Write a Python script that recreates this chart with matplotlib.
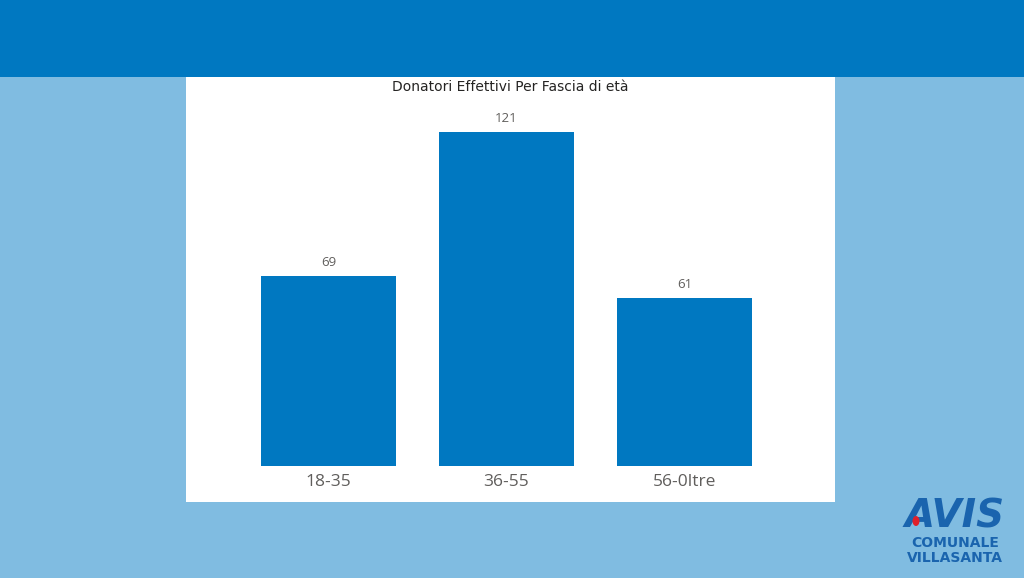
import matplotlib.pyplot as plt
from matplotlib.patches import Rectangle, Ellipse

categories = ["18-35", "36-55", "56-0ltre"]
donatori = [69, 121, 61]
title = "Donatori Effettivi Per Fascia di età"

W, H = 1024, 578
fig = plt.figure(figsize=(W / 100, H / 100), dpi=100)
fig.patch.set_facecolor("#80bce1")

# pixel box (from top-left) -> figure fraction rect
def px(x0, y0, x1, y1):
    return (x0 / W, 1 - y1 / H, (x1 - x0) / W, (y1 - y0) / H)

b = px(0, 0, W, 77)
fig.patches.append(Rectangle((b[0], b[1]), b[2], b[3], transform=fig.transFigure,
                             facecolor="#0078c1", edgecolor="none", zorder=-2))
p = px(186, 77, 835, 502)
fig.patches.append(Rectangle((p[0], p[1]), p[2], p[3], transform=fig.transFigure,
                             facecolor="white", edgecolor="none", zorder=-2))

ax = fig.add_axes(px(186, 100, 835, 466))
ax.set_facecolor("none")
ax.set_zorder(1)
x = list(range(len(categories)))
ax.bar(x, donatori, width=0.758, color="#0078c1")
ax.set_xlim((186 - 328.5) / 178, (835 - 328.5) / 178)
ax.set_ylim(0, (466 - 100) / 2.76)
for s in ax.spines.values():
    s.set_visible(False)
ax.set_yticks([])
ax.set_xticks(x)
ax.set_xticklabels(categories, fontsize=12.5, color="#605e5c", family="Open Sans")
ax.tick_params(axis="x", length=0, pad=6)
for xi, v in zip(x, donatori):
    ax.annotate(str(v), (xi, v), xytext=(0, 5), textcoords="offset points",
                ha="center", va="bottom", fontsize=9.5, color="#605e5c", family="Open Sans")

fig.text(510 / W, 1 - 87 / H, title, ha="center", va="center", fontsize=10,
         color="#252423", family="DejaVu Sans", fontweight="medium")

# logo
fig.text(955 / W, 1 - 517 / H, "AVIS", ha="center", va="center", fontsize=28,
         fontweight="heavy", style="italic", color="#1a64ae", family="DejaVu Sans")
fig.text(955 / W, 1 - 543 / H, "COMUNALE", ha="center", va="center", fontsize=10,
         color="#1a64ae", family="DejaVu Sans", fontweight="bold")
fig.text(955 / W, 1 - 558 / H, "VILLASANTA", ha="center", va="center", fontsize=10,
         color="#1a64ae", family="DejaVu Sans", fontweight="bold")
fig.patches.append(Ellipse((916 / W, 1 - 521 / H), 7 / W, 10 / H, transform=fig.transFigure,
                           facecolor="#e0202a", edgecolor="none", zorder=5))

fig.savefig("out.png", dpi=100, facecolor=fig.get_facecolor())
